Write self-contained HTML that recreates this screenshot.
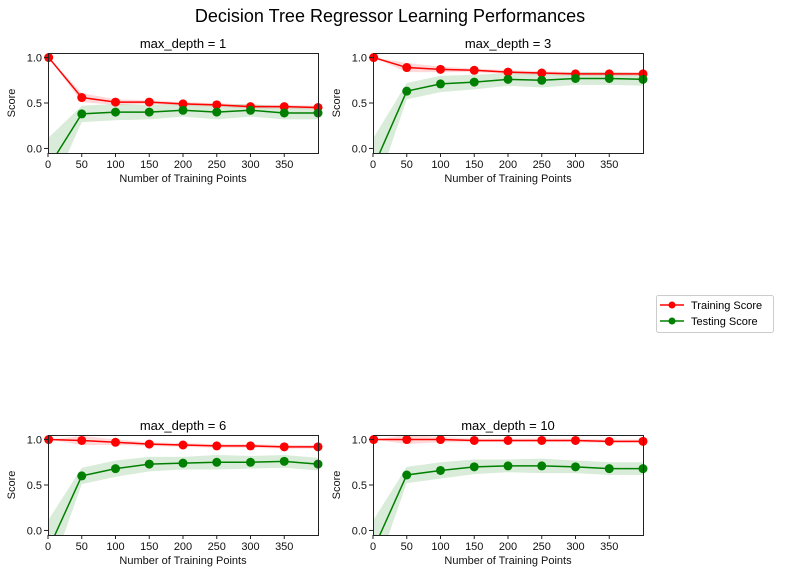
<!DOCTYPE html>
<html><head><meta charset="utf-8"><style>
body{margin:0;background:#fff}
svg{display:block;font-family:"Liberation Sans","DejaVu Sans",sans-serif}
</style></head><body>
<svg id="fig" width="787" height="583" viewBox="0 0 787 583">
<text x="390" y="22" font-size="18" text-anchor="middle" fill="#000">Decision Tree Regressor Learning Performances</text>
<g>
<rect x="656.5" y="295.5" width="117" height="37" rx="2" fill="#fff" stroke="#ccc"/>
<g><line x1="660" y1="305" x2="684" y2="305" stroke="#f00" stroke-width="1.5"/><circle cx="672" cy="305" r="3.5" fill="#f00"/><text x="691" y="309" font-size="11">Training Score</text></g>
<g><line x1="660" y1="321" x2="684" y2="321" stroke="#008000" stroke-width="1.5"/><circle cx="672" cy="321" r="3.5" fill="#008000"/><text x="691" y="325" font-size="11">Testing Score</text></g>
</g>
</svg>
<script>
const sizes=[1,50,100,150,200,250,300,350,400];
const depths=[1,3,6,10];
const train1=[1.0,0.56,0.51,0.51,0.49,0.48,0.46,0.46,0.45];
const test1=[-0.2,0.38,0.40,0.40,0.42,0.40,0.42,0.39,0.39];
const train3=[1.0,0.89,0.87,0.86,0.84,0.83,0.82,0.82,0.82];
const test3=[-0.2,0.63,0.71,0.73,0.76,0.75,0.77,0.77,0.76];
const train6=[1.0,0.99,0.97,0.95,0.94,0.93,0.93,0.92,0.92];
const test6=[-0.2,0.60,0.68,0.73,0.74,0.75,0.75,0.76,0.73];
const train10=[1.0,1.0,1.0,0.99,0.99,0.99,0.99,0.98,0.98];
const test10=[-0.2,0.61,0.66,0.70,0.71,0.71,0.70,0.68,0.68];
const trainStd=[0,0.05,0.03,0.02,0.02,0.02,0.02,0.02,0.02];
const testStd=[0.32,0.09,0.09,0.08,0.07,0.08,0.07,0.07,0.07];
const xTicks=[0,50,100,150,200,250,300,350];
const yTicks=[0.0,0.5,1.0];
const trains=[train1,train3,train6,train10];
const tests=[test1,test3,test6,test10];
const NS="http://www.w3.org/2000/svg";
const svg=document.getElementById('fig');
const boxes=[[48,53],[373,53],[48,435],[373,435]];
const W=270,H=100,XMAX=400,YMIN=-0.05,YMAX=1.05;
function mk(tag,attrs,parent){const e=document.createElementNS(NS,tag);for(const k in attrs)e.setAttribute(k,attrs[k]);parent.appendChild(e);return e;}
depths.forEach((d,i)=>{
 const [L,T]=boxes[i];
 const sx=v=>L+v/XMAX*W, sy=v=>T+(YMAX-v)/(YMAX-YMIN)*H;
 const g=mk('g',{},svg);
 
 
 const cid='clip'+i;
 const cp=mk('clipPath',{id:cid},g);mk('rect',{x:L,y:T,width:W,height:H},cp);
 const plot=mk('g',{'clip-path':'url(#'+cid+')'},g);
 const cid2='clipm'+i;
 const cp2=mk('clipPath',{id:cid2},g);mk('rect',{x:L-6,y:T,width:W+12,height:H},cp2);
 const marks=mk('g',{'clip-path':'url(#'+cid2+')'},g);
 function band(vals,std,col,name){
  let p=sizes.map((s,j)=>sx(s)+','+sy(vals[j]+std[j])).join(' ');
  p+=' '+sizes.slice().reverse().map((s,k)=>{const j=sizes.length-1-k;return sx(s)+','+sy(vals[j]-std[j]);}).join(' ');
  const e=mk('polygon',{points:p,fill:col,'fill-opacity':0.15},plot);
  
  
 }
 function line(vals,col,name){
  const e=mk('polyline',{points:sizes.map((s,j)=>sx(s)+','+sy(vals[j])).join(' '),fill:'none',stroke:col,'stroke-width':1.5},plot);
  
  
  sizes.forEach((s,j)=>{const c=mk('circle',{cx:sx(s),cy:sy(vals[j]),r:4.5,fill:col},marks);
   
   });
 }
 band(trains[i],trainStd,'#f00','training-band');
 band(tests[i],testStd,'#008000','testing-band');
 line(trains[i],'#f00','training-score-line');
 line(tests[i],'#008000','testing-score-line');
 mk('rect',{x:L+0.5,y:T+0.5,width:W,height:H,fill:'none',stroke:'#222','stroke-width':1},g);
 xTicks.forEach(t=>{const x=sx(t);mk('line',{x1:x,y1:T+H,x2:x,y2:T+H+4,stroke:'#222'},g);
  const tx=mk('text',{x:x,y:T+H+15,'font-size':11,'text-anchor':'middle',fill:'#111'},g);tx.textContent=t;
  
  });
 yTicks.forEach(t=>{const y=sy(t);mk('line',{x1:L-4,y1:y,x2:L,y2:y,stroke:'#222'},g);
  const tx=mk('text',{x:L-6,y:y+4,'font-size':11,'text-anchor':'end',fill:'#111'},g);tx.textContent=t.toFixed(1);
  
  });
 const ti=mk('text',{x:L+W/2,y:T-5,'font-size':13,'text-anchor':'middle',fill:'#000'},g);ti.textContent='max_depth = '+d;
 
 
 const xl=mk('text',{x:L+W/2,y:T+H+29,'font-size':11,'text-anchor':'middle',fill:'#111'},g);xl.textContent='Number of Training Points';
 
 
 const yl=mk('text',{x:0,y:0,'font-size':11,'text-anchor':'middle',fill:'#111',transform:'translate('+(L-33)+','+(T+H/2)+') rotate(-90)'},g);yl.textContent='Score';
 
 
});
</script>
</body></html>
